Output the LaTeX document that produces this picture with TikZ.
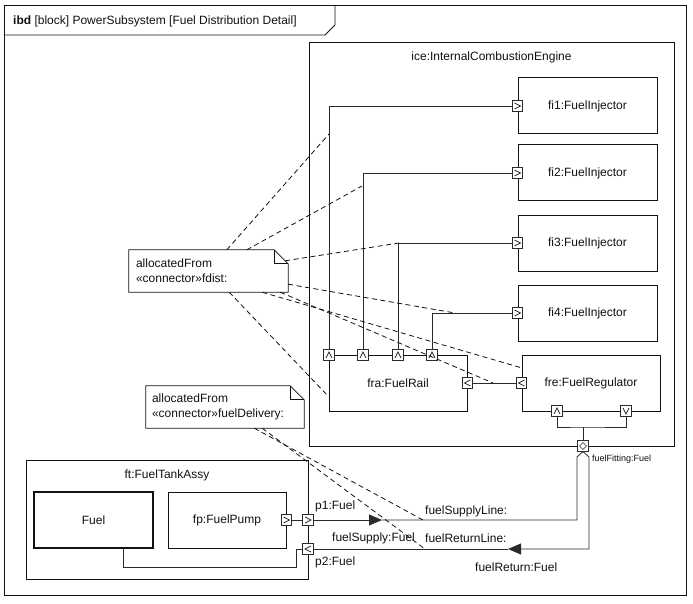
\documentclass[tikz,border=0pt]{standalone}
\usepackage{fontspec}
\setmainfont{Liberation Sans}
\usetikzlibrary{arrows.meta}
\definecolor{Ink}{HTML}{111111}
\definecolor{Edge}{HTML}{2A2A2A}
\tikzset{
  frame/.style={draw=Ink, line width=0.8pt},
  block/.style={draw=Ink, fill=white, line width=1pt, inner sep=0pt,
    font=\fontsize{12}{14}\selectfont, text=Ink},
  blocktitle/.style={font=\fontsize{12}{14}\selectfont, text=Ink, inner sep=0pt},
  port/.style={draw=Edge, fill=white, line width=0.7pt, minimum size=10.5pt, inner sep=0pt},
  chev/.style={draw=Edge, line width=0.7pt},
  portright/.style={port, path picture={\draw[chev]
    ([shift={(-3pt,3pt)}]path picture bounding box.center) -- ([xshift=3pt]path picture bounding box.center)
    -- ([shift={(-3pt,-3pt)}]path picture bounding box.center);}},
  portleft/.style={port, path picture={\draw[chev]
    ([shift={(3pt,3pt)}]path picture bounding box.center) -- ([xshift=-3pt]path picture bounding box.center)
    -- ([shift={(3pt,-3pt)}]path picture bounding box.center);}},
  portup/.style={port, path picture={\draw[chev]
    ([shift={(-3pt,-3pt)}]path picture bounding box.center) -- ([yshift=3pt]path picture bounding box.center)
    -- ([shift={(3pt,-3pt)}]path picture bounding box.center);}},
  portdown/.style={port, path picture={\draw[chev]
    ([shift={(-3pt,3pt)}]path picture bounding box.center) -- ([yshift=-3pt]path picture bounding box.center)
    -- ([shift={(3pt,3pt)}]path picture bounding box.center);}},
  portboth/.style={port, path picture={\draw[chev, line width=0.5pt]
    ([yshift=3.5pt]path picture bounding box.center) -- ([xshift=3.5pt]path picture bounding box.center)
    -- ([yshift=-3.5pt]path picture bounding box.center) -- ([xshift=-3.5pt]path picture bounding box.center) -- cycle;}},
  connector/.style={draw=Edge, line width=0.8pt},
  flowtip/.style={connector, -{Triangle[length=13pt,width=11pt]}},
  alloc/.style={draw=Ink, line width=0.8pt, dash pattern=on 5pt off 3.5pt},
  note/.style={align=left, inner xsep=7pt, inner ysep=0pt, font=\fontsize{12}{15}\selectfont, text=Ink},
  noteline/.style={draw=Ink, line width=0.8pt},
  label/.style={font=\fontsize{12}{14}\selectfont, text=Ink, anchor=west, inner sep=0pt},
  smalllabel/.style={font=\fontsize{9}{11}\selectfont, text=Ink, anchor=west, inner sep=0pt},
}

\begin{document}
\begin{tikzpicture}[x=1pt, y=-1pt]
  \useasboundingbox (0,0) rectangle (693,604);

  % Diagram frame with its heading tab.
  \node[frame, minimum width=682pt, minimum height=590pt] (ibd) at (345,300) {};
  \draw[frame] (4,35) -- (325,35) -- (335,25) -- (335,5);
  \node[label] (heading) at (13,21) {\textbf{ibd} [block] PowerSubsystem [Fuel Distribution Detail]};

  % Engine and its parts.
  \node[block, minimum width=365pt, minimum height=403pt] (ice) at (491.5,244.5) {};
  \node[blocktitle] (icename) at (491.5,57) {ice:InternalCombustionEngine};
  \foreach \i/\y in {1/106,2/173,3/243,4/313} {
    \node[block, minimum width=139pt, minimum height=56pt] (fi\i) at (587.5,\y) {fi\i:FuelInjector};
  }
  \node[block, minimum width=138pt, minimum height=56pt] (fra) at (398,383) {fra:FuelRail};
  \node[block, minimum width=138pt, minimum height=56pt] (fre) at (591,383) {fre:FuelRegulator};

  % Rail outlets feed the injectors.
  \foreach \i/\x in {1/329,2/363,3/398,4/432} {
    \node[portup] (railport\i) at (\x,355) {};
  }
  \foreach \i in {1,...,4} {
    \node[portright] (fiport\i) at (fi\i.west) {};
    \draw[connector] (railport\i.north) |- (fiport\i.west);
  }
  \node[portleft] (railreturn) at (fra.east) {};
  \node[portleft] (regport) at (fre.west) {};
  \draw[connector] (regport.west) -- (railreturn.east);

  % Regulator to fuel fitting.
  \node[portup] (regin) at (557,411) {};
  \node[portdown] (regout) at (626,411) {};
  \node[portboth] (fitport) at (583,446) {};
  \coordinate (regjoin) at (583,427);
  \draw[connector] (regin.south) |- (regjoin) -| (regout.south);
  \draw[connector] (regjoin) -- (fitport.north);

  % Fuel tank assembly.
  \node[block, minimum width=282pt, minimum height=119pt] (ft) at (167,519.5) {};
  \node[blocktitle] (ftname) at (167,475) {ft:FuelTankAssy};
  \node[block, line width=1.2pt, minimum width=119pt, minimum height=56pt] (fuel) at (93.5,520) {Fuel};
  \node[block, minimum width=118pt, minimum height=56pt] (fp) at (227,520) {fp:FuelPump};
  \node[portright] (pumpport) at (fp.east) {};
  \node[portright] (p1port) at (308,520) {};
  \node[portleft] (p2port) at (308,549) {};
  \draw[connector] (pumpport.east) -- (p1port.west);
  \coordinate (fuelout) at (123,548);
  \coordinate (fuelbend) at (296,567);
  \draw[connector] (fuelout) |- (fuelbend) |- (p2port.west);

  % Supply and return lines.
  \coordinate (supplytop) at (577,457);
  \coordinate (returntop) at (589,457);
  \coordinate (supplyarrow) at (382,520);
  \coordinate (returnarrow) at (508,549);
  \draw[flowtip] (p1port.east) -- (supplyarrow);
  \draw[connector] (supplyarrow) -| (supplytop) -- (fitport.south);
  \draw[flowtip] (fitport.south) -- (returntop) |- (returnarrow);
  \draw[connector] (returnarrow) -- (p2port.east);

  \node[label] (p1name) at (315,506) {p1:Fuel};
  \node[label] (supplylinename) at (425,511) {fuelSupplyLine:};
  \node[label] (supplyname) at (332,538) {fuelSupply:Fuel};
  \node[label] (returnlinename) at (425,538) {fuelReturnLine:};
  \node[label] (p2name) at (315,562) {p2:Fuel};
  \node[label] (returnname) at (475,567) {fuelReturn:Fuel};
  \node[smalllabel] (fittingname) at (592,459) {fuelFitting:Fuel};

  % Allocation notes.
  \node[note, minimum width=159pt, minimum height=42pt, text width=145pt] (fdistnote) at (208.5,271)
    {allocatedFrom\\«connector»fdist:};
  \draw[noteline, fill=white] (fdistnote.north west) -- ([xshift=-14pt]fdistnote.north east)
    -- ([yshift=-14pt]fdistnote.north east) |- (fdistnote.south west) -- cycle;
  \draw[noteline] ([xshift=-14pt]fdistnote.north east) |- ([yshift=-14pt]fdistnote.north east);
  \node[note, minimum width=159pt, minimum height=42pt, text width=145pt] at (fdistnote) {allocatedFrom\\«connector»fdist:};

  \node[note, inner xsep=6pt, minimum width=158pt, minimum height=42pt, text width=146pt] (deliverynote) at (225,407)
    {allocatedFrom\\«connector»fuelDelivery:};
  \draw[noteline, fill=white] (deliverynote.north west) -- ([xshift=-14pt]deliverynote.north east)
    -- ([yshift=-14pt]deliverynote.north east) |- (deliverynote.south west) -- cycle;
  \draw[noteline] ([xshift=-14pt]deliverynote.north east) |- ([yshift=-14pt]deliverynote.north east);
  \node[note, inner xsep=6pt, minimum width=158pt, minimum height=42pt, text width=146pt] at (deliverynote)
    {allocatedFrom\\«connector»fuelDelivery:};

  % Allocation links onto the connectors.
  \coordinate (rise1) at (329,134);
  \coordinate (rise2) at (362,186);
  \coordinate (rise3) at (399,243);
  \coordinate (run4) at (455,313);
  \coordinate (regedge) at (522,368);
  \coordinate (returnlink) at (493,383);
  \coordinate (railside) at (329,397);
  \coordinate (supplymid) at (423,520);
  \coordinate (returnmid) at (425,549);
  \draw[alloc] ([xshift=98pt]fdistnote.north west) -- (rise1);
  \draw[alloc] ([xshift=118pt]fdistnote.north west) -- (rise2);
  \draw[alloc] ([shift={(-3pt,-11pt)}]fdistnote.north east) -- (rise3);
  \draw[alloc] ([yshift=8pt]fdistnote.south east) -- (run4);
  \draw[alloc] ([xshift=-26pt]fdistnote.south east) -- (regedge);
  \draw[alloc] ([xshift=-8pt]fdistnote.south east) -- (returnlink);
  \draw[alloc] ([xshift=-59pt]fdistnote.south east) -- (railside);
  \draw[alloc] ([xshift=-50pt]deliverynote.south east) -- (supplymid);
  \draw[alloc] ([xshift=-42pt]deliverynote.south east) -- (returnmid);
\end{tikzpicture}
\end{document}
